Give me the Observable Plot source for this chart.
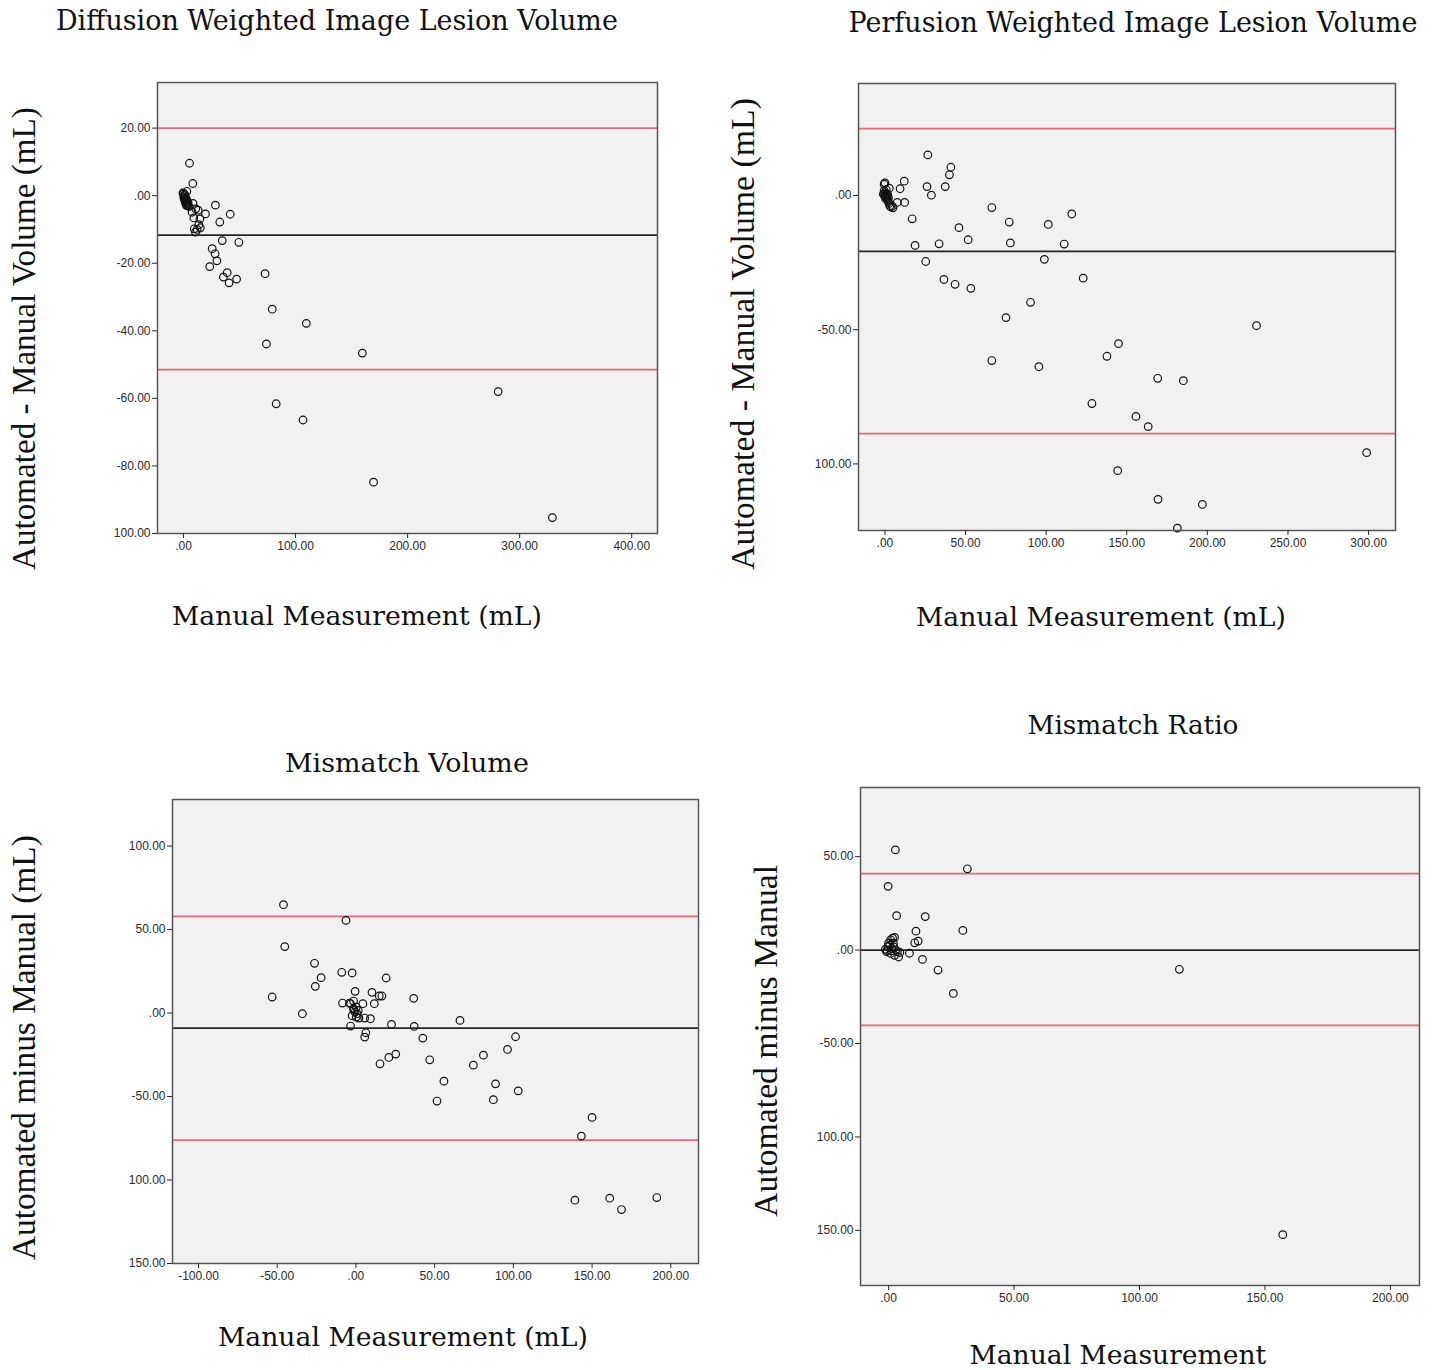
<!DOCTYPE html>
<html><head><meta charset="utf-8">
<script src="https://cdn.jsdelivr.net/npm/d3@7"></script>
<script src="https://cdn.jsdelivr.net/npm/@observablehq/plot@0.6"></script>
<style>
body{margin:0;background:#fff;}
#root{position:relative;width:1434px;height:1370px;overflow:hidden;background:#fff;}
.t{position:absolute;white-space:nowrap;color:#111;line-height:1;}
.serifA{font-family:"DejaVu Serif",serif;}
.serifB{font-family:"Liberation Serif",serif;}
</style></head><body><div id="root"></div>
<script>
// ---------- Panel 1: Diffusion Weighted Image Lesion Volume ----------
const dwiX = [-0.5,0,0.5,1,1.5,2,2.5,3,3.5,0.3,1.2,2.8,4,5,1.8,3,0.8,2.2,1.6,2.6,3.8,
  5.4,8.3,8.5,28.5,19.6,41.7,32.4,11,13.1,7.7,9.2,14.6,13.7,15,12.2,10.7,9.6,34.6,49.4,25.6,28.2,29.8,23.4,39,35.6,40.7,47.4,72.8,79.2,109.6,74,159.6,280.8,82.7,106.7,169.6,329.2];
const dwiY = [0.8,0.5,0,-0.5,-1,-1.5,-2,-2.5,-3,-0.6,0.3,-1.2,-2,-3.2,-2.2,1.3,-1.1,-0.8,-1.8,-2.9,-2.6,
  9.6,3.6,-2.3,-2.8,-5.4,-5.5,-7.8,-3.9,-4.3,-4.9,-6.6,-6.9,-8.6,-9.5,-10,-10.8,-9.8,-13.3,-13.8,-15.7,-17.2,-19.3,-21,-22.8,-24.1,-25.8,-24.7,-23.1,-33.6,-37.8,-43.9,-46.6,-58,-61.6,-66.4,-84.8,-95.3];
const dwiLines = {mean: -11.7, upper: 20, lower: -51.5};
const dwiXTicks = [0,100,200,300,400];
const dwiXLabels = [".00","100.00","200.00","300.00","400.00"];
const dwiYTicks = [20,0,-20,-40,-60,-80,-100];
const dwiYLabels = ["20.00",".00","-20.00","-40.00","-60.00","-80.00","100.00"];

// ---------- Panel 2: Perfusion Weighted Image Lesion Volume ----------
const pwiX = [0,0.5,1,1.5,2,-0.5,0.8,2.5,3,1.2,0.2,3.5,-1,0.4,1.8,-0.3,2.2,
  26.6,40.9,40,0,-0.5,12,9.4,26.1,37.4,28.8,2.7,7.6,12.2,4.6,5,16.9,66.3,77.1,101.3,115.9,45.9,51.6,33.6,18.7,77.8,111.2,98.9,25.3,123,36.6,43.5,53.3,90.3,75.1,230.5,144.9,137.7,66.3,95.5,169.2,185.1,128.4,155.7,163.3,298.8,144.4,169.4,196.9,181.4];
const pwiY = [1,0,-0.8,-1.5,-2.2,1.8,2.2,-3,-3.8,0.6,-0.4,-4.3,0.5,-1.2,0.2,0,-0.9,
  15.1,10.5,7.7,4.7,4.2,5.3,2.5,3.3,3.3,0.1,2.7,-2.6,-2.6,-4,-4.6,-8.7,-4.5,-9.9,-10.8,-6.9,-12,-16.5,-18,-18.6,-17.7,-18.1,-23.8,-24.6,-30.8,-31.3,-33.1,-34.6,-39.8,-45.5,-48.5,-55.2,-59.9,-61.5,-63.8,-68.1,-69,-77.5,-82.3,-86.1,-95.8,-102.5,-113.2,-115.1,-123.9];
const pwiLines = {mean: -20.8, upper: 24.9, lower: -88.7};
const pwiXTicks = [0,50,100,150,200,250,300];
const pwiXLabels = [".00","50.00","100.00","150.00","200.00","250.00","300.00"];
const pwiYTicks = [0,-50,-100];
const pwiYLabels = [".00","-50.00","100.00"];

// ---------- Panel 3: Mismatch Volume ----------
const mmvX = [-46,-6.3,-45.2,-26.3,-9,-2.4,-22.1,19.2,-25.8,-0.5,10.2,14.8,16.5,36.7,-53.2,-8.5,-4.1,-1.5,4.4,11.7,0.2,-1.2,-0.5,0.7,-2.4,1.9,0.2,-1.5,1.5,-3.4,-34,9.2,5.6,22.6,-3.4,37,66.1,6.3,5.6,42.5,101.4,96.3,81,25.3,20.9,46.9,15.3,74.6,55.9,88.7,103.1,51.5,87.3,150,143.2,139.1,161.2,191.1,168.7];
const mmvY = [64.9,55.5,39.8,29.8,24.4,24,21.2,21,16,13,12.4,10.2,10.2,8.8,9.6,6,6,7.2,5.6,5.6,3.6,1.6,0.6,-0.4,-1.6,-3,-2.4,2.6,1.6,5.6,-0.4,-3.4,-3,-6.8,-7.8,-8,-4.4,-11.8,-14.4,-15,-14.2,-21.8,-25.2,-24.6,-26.6,-28,-30.4,-31.2,-40.8,-42.4,-46.6,-52.7,-51.9,-62.5,-73.7,-112.1,-110.9,-110.5,-117.7];
const mmvLines = {mean: -9, upper: 57.9, lower: -76.1};
const mmvXTicks = [-100,-50,0,50,100,150,200];
const mmvXLabels = ["-100.00","-50.00",".00","50.00","100.00","150.00","200.00"];
const mmvYTicks = [100,50,0,-50,-100,-150];
const mmvYLabels = ["100.00","50.00",".00","-50.00","100.00","150.00"];

// ---------- Panel 4: Mismatch Ratio ----------
const mmrX = [2.7,31.4,-0.2,3.2,14.6,10.9,29.6,10.4,11.8,2.4,0.8,1.9,-0.3,1.3,2.9,-0.8,0.8,3.5,2.4,0,1.6,4.5,-1.3,0.4,1.1,2.1,-0.6,
  8.3,4,13.5,19.7,25.8,115.9,157.1];
const mmrY = [53.6,43.5,34.1,18.4,17.9,10.1,10.5,3.9,4.8,6.8,5.5,3.7,1.8,0.9,0,-0.9,-1.8,-0.9,-2.8,3.7,6.4,-1.3,0.4,2.6,-0.5,1.7,-0.2,
  -1.7,-3.7,-5,-10.7,-23.2,-10.3,-152.3];
const mmrLines = {mean: 0, upper: 40.9, lower: -40.3};
const mmrXTicks = [0,50,100,150,200];
const mmrXLabels = [".00","50.00","100.00","150.00","200.00"];
const mmrYTicks = [50,0,-50,-100,-150];
const mmrYLabels = ["50.00",".00","-50.00","100.00","150.00"];

const root = document.getElementById("root");

function panel(p) {
  const [fl, ft, fr, fb] = p.frame;
  const mL = 60, mT = 10, mR = 10, mB = 35;
  const xm = new Map(p.xTicks.map((t, i) => [t, p.xLabels[i]]));
  const ym = new Map(p.yTicks.map((t, i) => [t, p.yLabels[i]]));
  const idx = d3.range(p.x.length);
  const svg = Plot.plot({
    width: fr - fl + mL + mR, height: fb - ft + mT + mB,
    marginLeft: mL, marginTop: mT, marginRight: mR, marginBottom: mB,
    style: {fontFamily: "'Liberation Sans', Arial, sans-serif", fontSize: "12px", color: "#2a2a2a", background: "transparent", overflow: "visible"},
    x: {domain: p.xDomain},
    y: {domain: p.yDomain},
    marks: [
      Plot.frame({fill: "#f1f1f1", stroke: null}),
      Plot.ruleY([p.lines.upper, p.lines.lower], {stroke: "#ef657c", strokeWidth: 1.7}),
      Plot.ruleY([p.lines.mean], {stroke: "#262626", strokeWidth: 1.7}),
      Plot.dot(idx, {x: i => p.x[i], y: i => p.y[i], r: 3.8, stroke: "#111", strokeWidth: 1.2, fill: "none"}),
      Plot.frame({stroke: "#555", strokeWidth: 1.5}),
      Plot.axisX({ticks: p.xTicks, tickFormat: d => xm.get(d), tickSize: 5, tickPadding: 3, label: null}),
      Plot.axisY({ticks: p.yTicks, tickFormat: d => ym.get(d), tickSize: 5, tickPadding: 2, label: null})
    ]
  });
  svg.style.position = "absolute";
  svg.style.left = (fl - mL) + "px";
  svg.style.top = (ft - mT) + "px";
  root.appendChild(svg);
}

panel({frame: [157, 82, 657, 533], xDomain: [-23.2, 423], yDomain: [-100, 33.5],
  x: dwiX, y: dwiY, lines: dwiLines, xTicks: dwiXTicks, xLabels: dwiXLabels, yTicks: dwiYTicks, yLabels: dwiYLabels});
panel({frame: [858, 83, 1395, 530], xDomain: [-16.4, 316.7], yDomain: [-124.8, 41.7],
  x: pwiX, y: pwiY, lines: pwiLines, xTicks: pwiXTicks, xLabels: pwiXLabels, yTicks: pwiYTicks, yLabels: pwiYLabels});
panel({frame: [172, 799, 698, 1263], xDomain: [-116.5, 217.6], yDomain: [-150, 127.9],
  x: mmvX, y: mmvY, lines: mmvLines, xTicks: mmvXTicks, xLabels: mmvXLabels, yTicks: mmvYTicks, yLabels: mmvYLabels});
panel({frame: [860, 787, 1419, 1285], xDomain: [-11.2, 211.6], yDomain: [-179.5, 87],
  x: mmrX, y: mmrY, lines: mmrLines, xTicks: mmrXTicks, xLabels: mmrXLabels, yTicks: mmrYTicks, yLabels: mmrYLabels});

function label(text, cls, cx, cy, target, rotate) {
  const el = document.createElement("div");
  el.className = "t " + cls;
  el.textContent = text;
  el.style.fontSize = "30px";
  root.appendChild(el);
  const w = el.getBoundingClientRect().width;
  el.style.fontSize = (30 * target / w) + "px";
  const w2 = el.offsetWidth, h2 = el.offsetHeight;
  el.style.left = (cx - w2 / 2) + "px";
  el.style.top = (cy - h2 / 2) + "px";
  if (rotate) el.style.transform = "rotate(-90deg)";
}

label("Diffusion Weighted Image Lesion Volume", "serifA", 337, 21, 562, false);
label("Perfusion Weighted Image Lesion Volume", "serifA", 1133, 22, 569, false);
label("Mismatch Volume", "serifA", 407, 763, 244, false);
label("Mismatch Ratio", "serifA", 1133, 725, 211, false);
label("Manual Measurement (mL)", "serifA", 357, 616, 370, false);
label("Manual Measurement (mL)", "serifA", 1101, 617, 370, false);
label("Manual Measurement (mL)", "serifA", 403, 1337, 370, false);
label("Manual Measurement", "serifA", 1118, 1355, 297, false);
label("Automated - Manual Volume (mL)", "serifB", 23, 338, 463, true);
label("Automated  - Manual Volume (mL)", "serifB", 743, 334, 472, true);
label("Automated minus Manual (mL)", "serifB", 23, 1047, 425, true);
label("Automated minus Manual", "serifB", 766, 1041, 352, true);
</script>
</body></html>
